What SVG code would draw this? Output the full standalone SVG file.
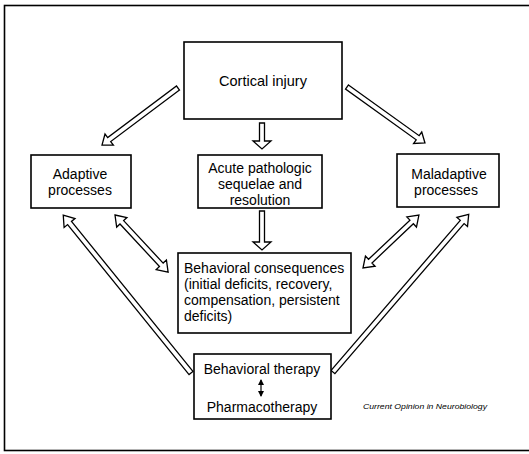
<svg xmlns="http://www.w3.org/2000/svg" width="529" height="454" viewBox="0 0 529 454">
<style>
.box{fill:#fff;stroke:#000;stroke-width:1.6}
.t{font-family:"Liberation Sans",Arial,sans-serif;font-size:14px;fill:#000}
.c{text-anchor:middle}
.arr{fill:#fff;stroke:#000;stroke-width:1.3;stroke-linejoin:miter}
.credit{font-family:"Liberation Sans",Arial,sans-serif;font-size:7.5px;font-style:italic;fill:#000}
</style>
<defs>
<marker id="sm" viewBox="0 0 6 6" refX="5" refY="3" markerWidth="6" markerHeight="6" orient="auto-start-reverse" markerUnits="userSpaceOnUse">
<path d="M0,0 L6,3 L0,6 Z" fill="#000"/>
</marker>
</defs>
<rect x="0" y="0" width="529" height="454" fill="#fff"/>
<rect x="4.5" y="5.5" width="540" height="445" fill="none" stroke="#000" stroke-width="1.6"/>

<g id="connectors">
<polygon class="arr" transform="translate(178,88) rotate(143.13)" points="0,-2.5 86,-2.5 86,-7 95,0 86,7 86,2.5 0,2.5"/>
<polygon class="arr" transform="translate(347,87) rotate(35.68)" points="0,-2.5 87,-2.5 87,-7 96,0 87,7 87,2.5 0,2.5"/>
<polygon class="arr" transform="translate(262,123) rotate(90)" points="0,-2.5 18,-2.5 18,-9 26,0 18,9 18,2.5 0,2.5"/>
<polygon class="arr" transform="translate(262,211) rotate(90)" points="0,-2.5 31,-2.5 31,-9 39,0 31,9 31,2.5 0,2.5"/>
<polygon class="arr" transform="translate(191,373) rotate(-129)" points="0,-2.5 193,-2.5 193,-7 203,0 193,7 193,2.5 0,2.5"/>
<polygon class="arr" transform="translate(333,372) rotate(-49.27)" points="0,-2.5 198,-2.5 198,-7 208,0 198,7 198,2.5 0,2.5"/>
<polygon class="arr" transform="translate(115,215) rotate(47.08)" points="0,0 10,-7 10,-2.5 68,-2.5 68,-7 78,0 68,7 68,2.5 10,2.5 10,7"/>
<polygon class="arr" transform="translate(363,268) rotate(-43.43)" points="0,0 10,-7 10,-2.5 67,-2.5 67,-7 77,0 67,7 67,2.5 10,2.5 10,7"/>
</g>

<g id="cortical">
<rect class="box" x="184" y="42" width="158" height="77"/>
<text class="t c" x="263" y="86" style="font-size:14.5px">Cortical injury</text>
</g>
<g id="adaptive">
<rect class="box" x="31" y="155" width="100" height="53"/>
<text class="t c" x="80" y="179">Adaptive</text>
<text class="t c" x="80" y="195">processes</text>
</g>
<g id="acute">
<rect class="box" x="198" y="155" width="124" height="53"/>
<text class="t c" x="260" y="173">Acute pathologic</text>
<text class="t c" x="260" y="189">sequelae and</text>
<text class="t c" x="260" y="205">resolution</text>
</g>
<g id="maladaptive">
<rect class="box" x="397" y="154" width="102" height="53"/>
<text class="t c" x="449" y="179">Maladaptive</text>
<text class="t c" x="446" y="195">processes</text>
</g>
<g id="behavioral">
<rect class="box" x="178" y="253" width="173" height="80"/>
<text class="t" x="184" y="273">Behavioral consequences</text>
<text class="t" x="184" y="289">(initial deficits, recovery,</text>
<text class="t" x="184" y="305">compensation, persistent</text>
<text class="t" x="184" y="321">deficits)</text>
</g>
<g id="therapy">
<rect class="box" x="194" y="354" width="137" height="65"/>
<text class="t c" x="262" y="374">Behavioral therapy</text>
<line x1="261" y1="380" x2="261" y2="396" stroke="#000" stroke-width="1.2" marker-start="url(#sm)" marker-end="url(#sm)"/>
<text class="t c" x="262" y="412">Pharmacotherapy</text>
</g>
<text class="credit" x="363" y="409" textLength="124" lengthAdjust="spacingAndGlyphs">Current Opinion in Neurobiology</text>
</svg>
